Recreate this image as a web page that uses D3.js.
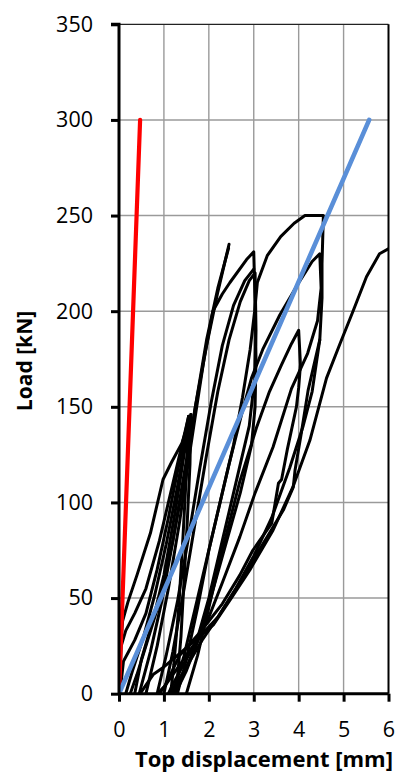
<!DOCTYPE html>
<html>
<head>
<meta charset="utf-8">
<script src="https://cdn.jsdelivr.net/npm/d3@7"></script>
<style>
  html, body { margin: 0; padding: 0; background: #fff; }
  svg { display: block; }
  text { font-family: "Open Sans", "Liberation Sans", sans-serif; fill: #000; }
</style>
</head>
<body>
<svg id="chart" width="403" height="780"></svg>
<script>
// Tick values for both axes
const xTicks = [0, 1, 2, 3, 4, 5, 6];
const yTicks = [0, 50, 100, 150, 200, 250, 300, 350];

// Reference stiffness lines: [displacement mm, load kN]
const rigidLine = [[0, 0], [0.47, 300]];
const elasticLine = [[0, 0], [5.57, 300]];

// Measured load–displacement paths, [displacement mm, load kN]
const run01 = [[0,0],[0.02,20],[0.08,38],[0.2,48],[0.4,62],[0.7,84],[0.98,112],[1.17,121],[1.4,131],[1.58,144]];
const run02 = [[0.02,0],[0.1,17],[0.35,28],[0.6,42],[0.85,65],[1.1,92],[1.35,122],[1.55,145]];
const run03 = [[0.15,0],[0.3,12],[0.55,30],[0.8,52],[1.05,78],[1.3,108],[1.5,135],[1.6,146]];
const run04 = [[1.6,146],[1.58,120],[1.52,90],[1.45,60],[1.38,30],[1.3,8],[1.25,0]];
const run05 = [[1.55,145],[1.5,115],[1.42,80],[1.33,45],[1.22,15],[1.15,0]];
const run06 = [[0.35,0],[0.5,18],[0.75,38],[1.0,62],[1.25,95],[1.45,125],[1.55,140]];
const run07 = [[0.45,0],[0.7,22],[0.95,48],[1.2,80],[1.45,115],[1.7,150],[1.95,182],[2.2,210],[2.45,235]];
const run08 = [[0.6,0],[0.85,25],[1.1,55],[1.35,90],[1.55,122],[1.73,150],[1.9,176],[2.09,200],[2.3,209],[2.47,215],[2.84,227],[3.0,231],[3.03,205],[3.05,175],[3.03,150],[2.95,130],[2.7,105],[2.4,80],[2.1,55],[1.8,30],[1.5,12],[1.25,0]];
const run09 = [[0.85,0],[1.05,20],[1.3,48],[1.55,82],[1.8,118],[2.05,152],[2.3,182],[2.55,203],[2.8,216],[3.0,222]];
const run10 = [[1.0,0],[1.2,22],[1.45,55],[1.7,90],[1.95,125],[2.2,158],[2.45,185],[2.7,205],[2.9,216],[3.03,220],[3.05,190],[3.02,165],[2.9,140],[2.6,110],[2.3,80],[2.0,50],[1.7,25],[1.4,8],[1.2,0]];
const run11 = [[1.3,0],[1.5,18],[1.75,45],[2.0,75],[2.3,105],[2.55,130],[2.75,155],[2.92,180],[3.02,200],[3.08,215],[3.3,229],[3.6,239],[3.9,246],[4.14,250],[4.55,250],[4.52,225],[4.52,207],[4.47,185],[4.21,158.6],[4.05,135],[3.92,117],[3.88,108],[3.66,96],[2.99,70],[2.69,58],[2.2,40],[1.8,30],[1.4,22],[1.0,14],[0.76,10],[0.47,0]];
const run12 = [[1.2,0],[1.45,20],[1.75,50],[2.1,85],[2.45,120],[2.75,148],[2.95,165],[3.2,180],[3.58,198],[4.03,216],[4.3,226],[4.47,230],[4.5,212],[4.42,195],[4.2,178],[3.84,159.5],[3.43,129],[3.03,105],[2.69,82],[2.3,58],[2.0,40],[1.8,30],[1.5,20],[1.2,10],[0.9,0]];
const run13 = [[1.5,0],[1.75,20],[2.0,45],[2.3,75],[2.69,111],[3.06,139],[3.35,158],[3.62,172],[3.84,183],[4.0,190],[4.04,172],[4.0,160],[3.95,150],[3.75,128],[3.62,112],[3.55,110],[3.4,89],[2.98,75],[2.69,62],[2.3,47],[1.8,32],[1.35,20],[1.02,4],[0.85,0]];
const run14 = [[1.1,0],[1.2,5],[1.5,18],[1.8,30],[2.1,36],[2.5,50],[2.91,64.6],[3.43,85.5],[3.87,108],[4.25,132.5],[4.62,165],[4.92,183],[5.21,200],[5.51,218],[5.8,230],[6.03,233]];
const run15 = [[1.13,0],[1.5,14],[1.85,28],[2.2,40],[2.6,55],[3.0,72],[3.4,92],[3.8,118],[4.1,140],[4.3,158],[4.47,185]];
const run16 = [[0,0],[0.05,25],[0.15,33],[0.35,42],[0.6,55],[0.9,80],[1.2,110],[1.45,135],[1.55,145]];
const run17 = [[0.25,0],[0.4,10],[0.6,25],[0.9,48],[1.2,80],[1.5,118],[1.7,150],[1.95,185],[2.2,212],[2.44,233]];

const runs = [run01, run02, run03, run04, run05, run06, run07, run08, run09,
              run10, run11, run12, run13, run14, run15, run16, run17];

const svg = d3.select("#chart");
const margin = { left: 119, right: 14.5, top: 24.3, bottom: 86.3 };
const W = 403, H = 780;
const plotW = W - margin.left - margin.right;
const plotH = H - margin.top - margin.bottom;

const x = d3.scaleLinear().domain([0, 6]).range([margin.left, margin.left + plotW]);
const y = d3.scaleLinear().domain([0, 350]).range([margin.top + plotH, margin.top]);

// Gridlines
const grid = svg.append("g");
grid.selectAll("line.gx").data(xTicks.filter(d => d > 0 && d < 6)).join("line")
  .attr("x1", d => x(d)).attr("x2", d => x(d))
  .attr("y1", y(0)).attr("y2", y(350))
  .attr("stroke", "#9a9a9a").attr("stroke-width", 1.4);
grid.selectAll("line.gy").data(yTicks.filter(d => d > 0 && d < 350)).join("line")
  .attr("x1", x(0)).attr("x2", x(6))
  .attr("y1", d => y(d)).attr("y2", d => y(d))
  .attr("stroke", "#9a9a9a").attr("stroke-width", 1.4);

// Plot frame: top and right edges
svg.append("line").attr("x1", x(0)).attr("x2", x(6)).attr("y1", y(350)).attr("y2", y(350))
  .attr("stroke", "#222").attr("stroke-width", 1.3);
svg.append("line").attr("x1", x(6)).attr("x2", x(6)).attr("y1", y(350)).attr("y2", y(0))
  .attr("stroke", "#000").attr("stroke-width", 2);

// Data paths, clipped to the plot area
svg.append("clipPath").attr("id", "plotClip").append("rect")
  .attr("x", x(0)).attr("y", y(350)).attr("width", plotW).attr("height", plotH);

const line = d3.line().x(d => x(d[0])).y(d => y(d[1]));
const data = svg.append("g").attr("clip-path", "url(#plotClip)");

data.selectAll("path.run").data(runs).join("path")
  .attr("class", "run")
  .attr("d", line)
  .attr("fill", "none").attr("stroke", "#000").attr("stroke-width", 3)
  .attr("stroke-linejoin", "round").attr("stroke-linecap", "round");

data.append("path").datum(rigidLine).attr("d", line)
  .attr("fill", "none").attr("stroke", "#ff0000").attr("stroke-width", 4.2)
  .attr("stroke-linecap", "round");
data.append("path").datum(elasticLine).attr("d", line)
  .attr("fill", "none").attr("stroke", "#5a8fd8").attr("stroke-width", 4.6)
  .attr("stroke-linecap", "round");

// Axes
const yAxis = d3.axisLeft(y).tickValues(yTicks).tickSize(8).tickPadding(18).tickFormat(d3.format("d"));
const xAxis = d3.axisBottom(x).tickValues(xTicks).tickSize(8).tickPadding(22).tickFormat(d3.format("d"));

const gy = svg.append("g").attr("transform", `translate(${x(0)},0)`).call(yAxis);
const gx = svg.append("g").attr("transform", `translate(0,${y(0)})`).call(xAxis);

[gy, gx].forEach(g => {
  g.select(".domain").attr("stroke", "#000").attr("stroke-width", 3);
  g.selectAll(".tick line").attr("stroke", "#000").attr("stroke-width", 3);
  g.selectAll(".tick text").attr("font-size", 21.5).attr("font-family", '"Open Sans", "Liberation Sans", sans-serif').attr("fill", "#000");
});
gy.select(".domain").attr("d", `M-8,${y(350)}H0V${y(0)}`);
gx.select(".domain").attr("d", `M${x(0)},0H${x(6)}`);
gx.selectAll(".tick text").attr("dy", "0.62em");

// Axis titles
svg.append("text")
  .attr("x", 264).attr("y", 767)
  .attr("text-anchor", "middle")
  .attr("font-size", 22).attr("font-weight", "bold")
  .attr("textLength", 258).attr("lengthAdjust", "spacingAndGlyphs")
  .text("Top displacement [mm]");

svg.append("text")
  .attr("transform", `translate(32,361) rotate(-90)`)
  .attr("text-anchor", "middle")
  .attr("font-size", 21).attr("font-weight", "bold")
  .text("Load [kN]");
</script>
</body>
</html>
